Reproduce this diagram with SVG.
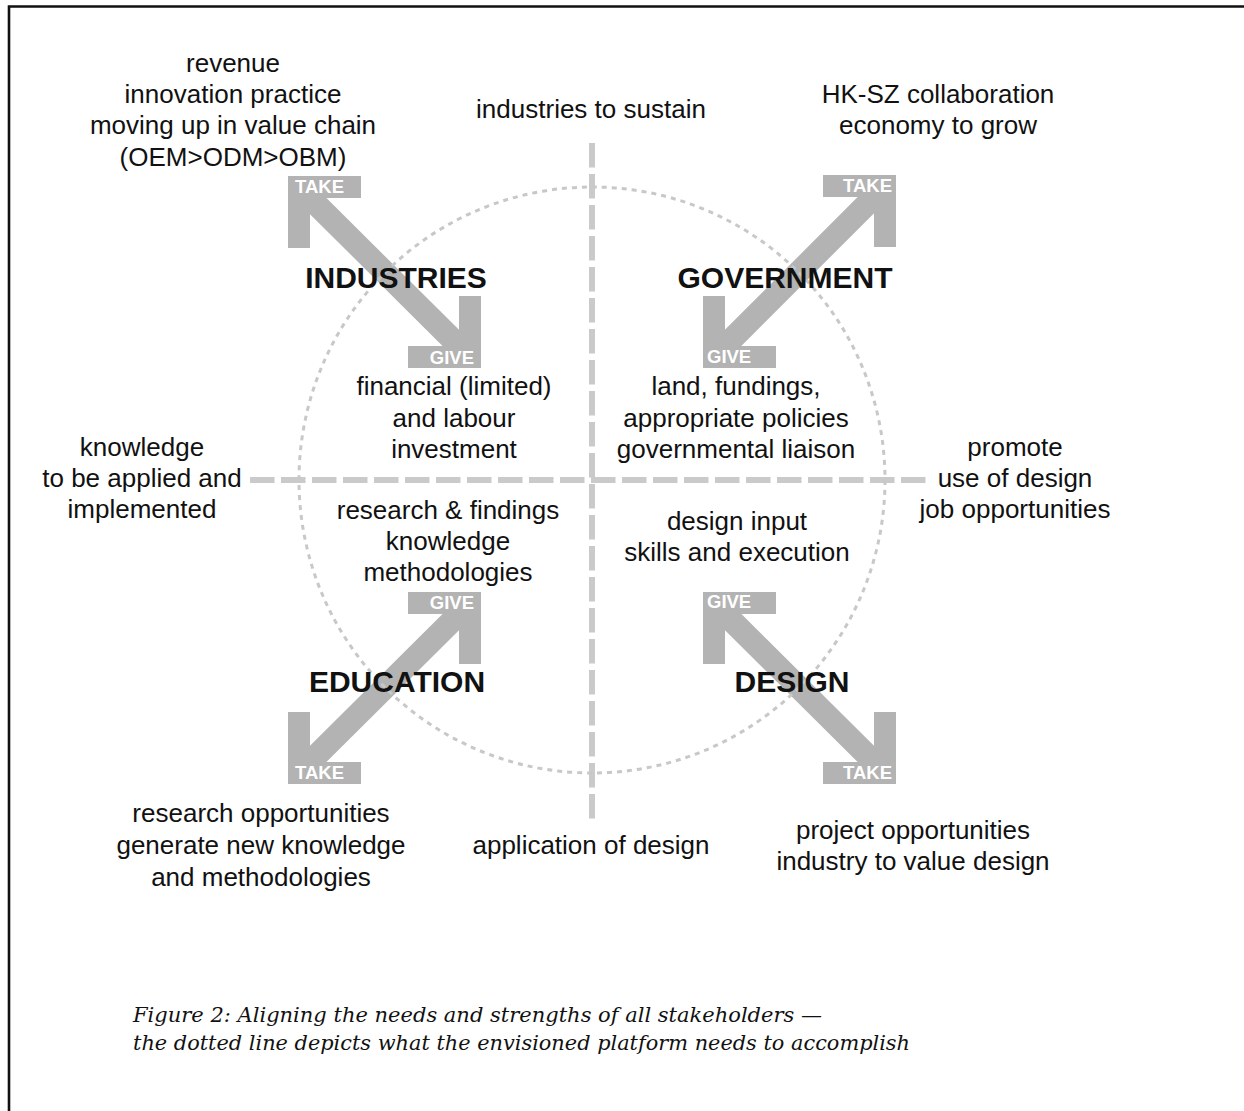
<svg xmlns="http://www.w3.org/2000/svg" xmlns:xlink="http://www.w3.org/1999/xlink" width="1244" height="1111" viewBox="0 0 1244 1111">
<style>
.t{font-family:"Liberation Sans",Arial,sans-serif;font-size:26px;fill:#111111;text-anchor:middle}
.h{font-family:"Liberation Sans",Arial,sans-serif;font-size:30px;font-weight:bold;fill:#111111;text-anchor:middle}
.tg{font-family:"Liberation Sans",Arial,sans-serif;font-size:18.5px;font-weight:bold;fill:#ffffff}
.cap{font-family:"DejaVu Serif","Liberation Serif",serif;font-style:italic;font-size:21px;fill:#111111}
.arr{fill:#b3b3b3}
.shaft{stroke:#b3b3b3;stroke-width:23;fill:none}
.dash{stroke:#cacaca;stroke-width:6;fill:none;stroke-dasharray:24.5 6.5}
.dot{stroke:#c8c8c8;stroke-width:3;fill:none;stroke-dasharray:5 5}
</style>
<defs>
<path id="head" d="M0,0 H73 V22 H22 V72 H0 Z"/>
</defs>
<rect width="1244" height="1111" fill="#ffffff"/>
<path d="M9,1111 V6.5 H1244" stroke="#111" stroke-width="2.6" fill="none"/>

<g id="connectors">
<line class="dash" x1="250" y1="480" x2="930" y2="480"/>
<line class="dash" x1="592" y1="143" x2="592" y2="822"/>
</g>

<g id="industries">
<g class="arr">
<use xlink:href="#head" href="#head" transform="translate(288,176)"/>
<use xlink:href="#head" href="#head" transform="translate(481,368) scale(-1,-1)"/>
</g>
<line class="shaft" x1="303" y1="191" x2="466" y2="353"/>
<text class="tg" x="295" y="193">TAKE</text>
<text class="tg" x="474" y="364" text-anchor="end">GIVE</text>
</g>

<g id="government">
<g class="arr">
<use xlink:href="#head" href="#head" transform="translate(896,175) scale(-1,1)"/>
<use xlink:href="#head" href="#head" transform="translate(703,368) scale(1,-1)"/>
</g>
<line class="shaft" x1="881" y1="190" x2="718" y2="353"/>
<text class="tg" x="892" y="192" text-anchor="end">TAKE</text>
<text class="tg" x="707" y="363">GIVE</text>
</g>

<g id="education">
<g class="arr">
<use xlink:href="#head" href="#head" transform="translate(481,592) scale(-1,1)"/>
<use xlink:href="#head" href="#head" transform="translate(288,784) scale(1,-1)"/>
</g>
<line class="shaft" x1="466" y1="607" x2="303" y2="769"/>
<text class="tg" x="474" y="609" text-anchor="end">GIVE</text>
<text class="tg" x="295" y="779">TAKE</text>
</g>

<g id="design">
<g class="arr">
<use xlink:href="#head" href="#head" transform="translate(703,592)"/>
<use xlink:href="#head" href="#head" transform="translate(896,784) scale(-1,-1)"/>
</g>
<line class="shaft" x1="718" y1="607" x2="881" y2="769"/>
<text class="tg" x="707" y="608">GIVE</text>
<text class="tg" x="892" y="779" text-anchor="end">TAKE</text>
</g>

<circle id="platform" class="dot" cx="592" cy="480" r="293"/>

<g id="titles">
<text class="h" x="396" y="288">INDUSTRIES</text>
<text class="h" x="785" y="288">GOVERNMENT</text>
<text class="h" x="397" y="692">EDUCATION</text>
<text class="h" x="792" y="692">DESIGN</text>
</g>

<g id="labels">
<text class="t" x="233" y="72">revenue</text>
<text class="t" x="233" y="103">innovation practice</text>
<text class="t" x="233" y="134">moving up in value chain</text>
<text class="t" x="233" y="166">(OEM&gt;ODM&gt;OBM)</text>

<text class="t" x="591" y="118">industries to sustain</text>

<text class="t" x="938" y="103">HK-SZ collaboration</text>
<text class="t" x="938" y="134">economy to grow</text>

<text class="t" x="454" y="395">financial (limited)</text>
<text class="t" x="454" y="427">and labour</text>
<text class="t" x="454" y="458">investment</text>

<text class="t" x="736" y="395">land, fundings,</text>
<text class="t" x="736" y="427">appropriate policies</text>
<text class="t" x="736" y="458">governmental liaison</text>

<text class="t" x="142" y="456">knowledge</text>
<text class="t" x="142" y="487">to be applied and</text>
<text class="t" x="142" y="518">implemented</text>

<text class="t" x="1015" y="456">promote</text>
<text class="t" x="1015" y="487">use of design</text>
<text class="t" x="1015" y="518">job opportunities</text>

<text class="t" x="448" y="519">research &amp; findings</text>
<text class="t" x="448" y="550">knowledge</text>
<text class="t" x="448" y="581">methodologies</text>

<text class="t" x="737" y="530">design input</text>
<text class="t" x="737" y="561">skills and execution</text>

<text class="t" x="261" y="822">research opportunities</text>
<text class="t" x="261" y="854">generate new knowledge</text>
<text class="t" x="261" y="886">and methodologies</text>

<text class="t" x="591" y="854">application of design</text>

<text class="t" x="913" y="839">project opportunities</text>
<text class="t" x="913" y="870">industry to value design</text>
</g>

<g id="caption">
<text class="cap" x="133" y="1022" textLength="689" lengthAdjust="spacingAndGlyphs">Figure 2: Aligning the needs and strengths of all stakeholders —</text>
<text class="cap" x="133" y="1050" textLength="777" lengthAdjust="spacingAndGlyphs">the dotted line depicts what the envisioned platform needs to accomplish</text>
</g>
</svg>
